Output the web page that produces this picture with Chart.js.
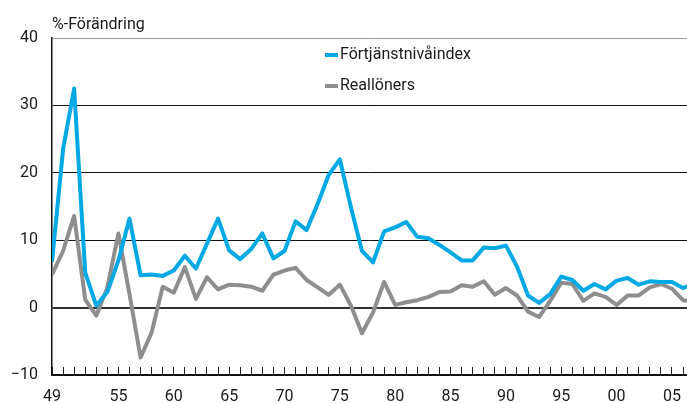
<!DOCTYPE html>
<html>
<head>
<meta charset="utf-8">
<script src="https://cdn.jsdelivr.net/npm/chart.js@4/dist/chart.umd.min.js"></script>
<style>
  html, body { margin: 0; padding: 0; background: #fff; }
  #wrap { width: 687px; height: 403px; }
</style>
</head>
<body>
<div id="wrap"><canvas id="chart" width="687" height="403"></canvas></div>
<script>
// Årtal och serier (procentuell förändring per år)
const years = [1949, 1950, 1951, 1952, 1953, 1954, 1955, 1956, 1957, 1958, 1959,
  1960, 1961, 1962, 1963, 1964, 1965, 1966, 1967, 1968, 1969,
  1970, 1971, 1972, 1973, 1974, 1975, 1976, 1977, 1978, 1979,
  1980, 1981, 1982, 1983, 1984, 1985, 1986, 1987, 1988, 1989,
  1990, 1991, 1992, 1993, 1994, 1995, 1996, 1997, 1998, 1999,
  2000, 2001, 2002, 2003, 2004, 2005, 2006, 2007];

const fortjanst = [6.8, 23.5, 32.5, 5.2, 0.3, 2.3, 7.0, 13.2, 4.8, 4.9, 4.7,
  5.5, 7.7, 5.8, 9.5, 13.2, 8.5, 7.2, 8.7, 11.0, 7.3,
  8.4, 12.8, 11.5, 15.4, 19.7, 22.0, 14.9, 8.4, 6.7, 11.3,
  11.9, 12.7, 10.5, 10.3, 9.3, 8.2, 7.0, 7.0, 8.9, 8.8,
  9.2, 6.1, 1.8, 0.7, 2.0, 4.6, 4.1, 2.5, 3.5, 2.7,
  4.0, 4.4, 3.4, 3.9, 3.8, 3.8, 2.9, 3.6];

const reallon = [4.9, 8.4, 13.6, 1.2, -1.2, 3.0, 11.0, 2.0, -7.4, -3.7, 3.1,
  2.2, 6.0, 1.3, 4.5, 2.7, 3.4, 3.3, 3.1, 2.5, 4.9,
  5.5, 5.9, 4.1, 3.0, 1.9, 3.4, 0.3, -3.8, -0.7, 3.8,
  0.4, 0.8, 1.1, 1.6, 2.3, 2.4, 3.3, 3.1, 3.9, 1.9,
  2.9, 1.8, -0.6, -1.4, 1.0, 3.7, 3.5, 1.0, 2.1, 1.6,
  0.4, 1.8, 1.8, 3.0, 3.5, 2.8, 1.1, 0.9];

const seriesNames = ['Förtjänstnivåindex', 'Reallöners'];
const labelYears = [1949, 1955, 1960, 1965, 1970, 1975, 1980, 1985, 1990, 1995, 2000, 2005];
const yTicks = [-10, 0, 10, 20, 30, 40];

const FONT = 'Roboto, "DejaVu Sans", sans-serif';
const BLUE = '#00a8e4';
const GREY = '#8e8e8e';

// Rubrik och legend inne i diagrammet
const overlay = {
  id: 'overlay',
  afterDraw(chart) {
    const ctx = chart.ctx;
    const area = chart.chartArea;
    ctx.save();
    ctx.fillStyle = '#1a1a1a';
    ctx.font = '16px ' + FONT;
    ctx.textBaseline = 'alphabetic';
    ctx.textAlign = 'left';
    ctx.fillText('%-Förändring', area.left, area.top - 9);

    const lx = 325, ly = [55, 86];
    chart.data.datasets.forEach(function(ds, i) {
      ctx.strokeStyle = ds.borderColor;
      ctx.lineWidth = 4;
      ctx.beginPath();
      ctx.moveTo(lx, ly[i]);
      ctx.lineTo(lx + 13, ly[i]);
      ctx.stroke();
      ctx.fillStyle = '#1a1a1a';
      ctx.textBaseline = 'middle';
      ctx.fillText(ds.label, lx + 15, ly[i]);
    });
    ctx.restore();
  }
};

new Chart(document.getElementById('chart'), {
  type: 'line',
  data: {
    datasets: [
      {
        label: seriesNames[0],
        data: years.map((y, i) => ({ x: y, y: fortjanst[i] })),
        borderColor: BLUE,
        borderWidth: 4,
        borderJoinStyle: 'round',
        pointRadius: 0,
        tension: 0,
        fill: false
      },
      {
        label: seriesNames[1],
        data: years.map((y, i) => ({ x: y, y: reallon[i] })),
        borderColor: GREY,
        borderWidth: 4,
        borderJoinStyle: 'round',
        pointRadius: 0,
        tension: 0,
        fill: false
      }
    ]
  },
  options: {
    responsive: false,
    animation: false,
    layout: { padding: { top: 38, right: 0, left: 0, bottom: 0 } },
    plugins: {
      legend: { display: false },
      tooltip: { enabled: false }
    },
    scales: {
      x: {
        type: 'linear',
        min: 1949,
        max: 2006.36,
        afterFit: function(scale) {
          scale.height = 28;
          scale.paddingLeft = 0;
          scale.paddingRight = 0;
        },
        afterBuildTicks: function(scale) {
          scale.ticks = years.filter(y => y <= 2006).map(y => ({ value: y }));
        },
        grid: {
          drawOnChartArea: false,
          drawTicks: true,
          tickLength: -8,
          tickColor: '#222',
          tickWidth: 1
        },
        border: { color: '#111', width: 1.5 },
        ticks: {
          autoSkip: false,
          maxRotation: 0,
          padding: 20,
          color: '#1a1a1a',
          font: { family: FONT, size: 16 },
          callback: function(value) {
            if (labelYears.indexOf(value) < 0) return '';
            return String(value).slice(2);
          }
        }
      },
      y: {
        min: -10,
        max: 40,
        afterFit: function(scale) { scale.width = 52; },
        afterBuildTicks: function(scale) {
          scale.ticks = yTicks.map(v => ({ value: v }));
        },
        grid: {
          drawTicks: false,
          color: function(c) {
            const v = c.tick && c.tick.value;
            if (v === 40) return '#9a9a9a';
            if (v === 0) return '#333';
            return '#111';
          },
          lineWidth: function(c) {
            const v = c.tick && c.tick.value;
            return v === 0 ? 2 : 1;
          }
        },
        border: { color: '#111', width: 1.5 },
        ticks: {
          padding: 14,
          color: '#1a1a1a',
          font: { family: FONT, size: 16 },
          callback: function(value) {
            return value < 0 ? '\u2212' + Math.abs(value) : String(value);
          }
        }
      }
    }
  },
  plugins: [overlay]
});
</script>
</body>
</html>
